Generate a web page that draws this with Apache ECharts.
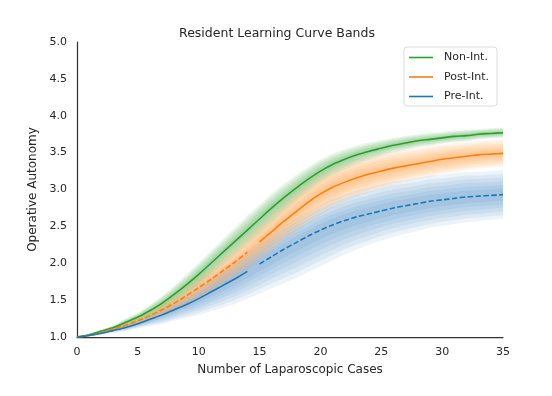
<!DOCTYPE html>
<html>
<head>
<meta charset="utf-8">
<script src="https://cdn.jsdelivr.net/npm/echarts@6/dist/echarts.min.js"></script>
<style>
  html, body { margin: 0; padding: 0; background: #fff; }
  #chart { width: 552px; height: 396px; }
</style>
</head>
<body>
<div id="chart"></div>
<script>
// 病例数（0..35）
var cases = [];
for (var c = 0; c <= 35; c++) cases.push(c);

// 平均曲线
var nonInt = [1.00, 1.03, 1.08, 1.13, 1.20, 1.27, 1.36, 1.46, 1.58, 1.71, 1.85, 2.00, 2.15, 2.30, 2.45, 2.60,
              2.75, 2.89, 3.02, 3.14, 3.25, 3.34, 3.41, 3.47, 3.52, 3.56, 3.60, 3.63, 3.66, 3.68, 3.70, 3.72,
              3.73, 3.75, 3.76, 3.77];
var postInt = [1.00, 1.02, 1.06, 1.11, 1.16, 1.22, 1.29, 1.37, 1.46, 1.56, 1.67, 1.78, 1.90, 2.02, 2.15, 2.29,
               2.43, 2.57, 2.70, 2.83, 2.94, 3.03, 3.10, 3.16, 3.21, 3.25, 3.29, 3.32, 3.35, 3.38, 3.41, 3.43,
               3.45, 3.47, 3.48, 3.49];
var preInt = [1.00, 1.02, 1.05, 1.09, 1.13, 1.18, 1.24, 1.30, 1.37, 1.44, 1.52, 1.61, 1.70, 1.79, 1.89, 1.99,
              2.09, 2.19, 2.28, 2.37, 2.45, 2.52, 2.58, 2.63, 2.67, 2.71, 2.75, 2.78, 2.81, 2.84, 2.86, 2.88,
              2.90, 2.91, 2.92, 2.93];

// 外层带宽（上/下半宽）
var nonIntSpread = [0, 0.01, 0.02, 0.03, 0.05, 0.06, 0.08, 0.10, 0.12, 0.14, 0.16, 0.17, 0.18, 0.19, 0.20, 0.20,
                    0.20, 0.19, 0.18, 0.17, 0.16, 0.15, 0.14, 0.13, 0.12, 0.11, 0.10, 0.10, 0.09, 0.09, 0.08, 0.08,
                    0.08, 0.07, 0.07, 0.07];
var postIntSpread = [0, 0.01, 0.02, 0.03, 0.04, 0.05, 0.07, 0.09, 0.11, 0.13, 0.16, 0.18, 0.20, 0.22, 0.24, 0.26,
                     0.27, 0.28, 0.29, 0.29, 0.29, 0.28, 0.27, 0.26, 0.25, 0.24, 0.23, 0.22, 0.21, 0.21, 0.20, 0.20,
                     0.19, 0.19, 0.18, 0.18];
var preIntUpper = [0, 0.01, 0.02, 0.03, 0.04, 0.05, 0.07, 0.09, 0.11, 0.14, 0.17, 0.20, 0.23, 0.26, 0.28, 0.30,
                   0.31, 0.32, 0.33, 0.33, 0.34, 0.35, 0.35, 0.36, 0.36, 0.36, 0.36, 0.35, 0.35, 0.35, 0.34, 0.34,
                   0.34, 0.33, 0.33, 0.33];
var preIntLower = [0, 0.01, 0.02, 0.03, 0.05, 0.06, 0.09, 0.12, 0.15, 0.18, 0.22, 0.26, 0.30, 0.34, 0.37, 0.40,
                   0.43, 0.46, 0.48, 0.49, 0.49, 0.48, 0.46, 0.44, 0.42, 0.40, 0.39, 0.38, 0.37, 0.36, 0.35, 0.35,
                   0.34, 0.34, 0.33, 0.33];

var xTicks = [0, 5, 10, 15, 20, 25, 30, 35];
var yTicks = [1.0, 1.5, 2.0, 2.5, 3.0, 3.5, 4.0, 4.5, 5.0];
var splitCase = 14; // 14 之前/15 之后 线型切换

var GREEN = '#2ca02c', ORANGE = '#ff7f0e', BLUE = '#1f77b4';
var FONT = 'DejaVu Sans';
var layerFracs = [1.0, 0.85, 0.7, 0.55, 0.4, 0.25];

function pairs(arr, from, to) {
    var out = [];
    for (var i = from; i <= to; i++) out.push([cases[i], arr[i]]);
    return out;
}

// 不确定性带：自定义多边形，坐标由 api.coord 换算
function bandSeries(mean, upper, lower, color) {
    var list = [];
    layerFracs.forEach(function(f) {
        list.push({
            type: 'custom',
            silent: true,
            data: [[0, mean[0]]],
            z: 1,
            renderItem: function(params, api) {
                var pts = [];
                for (var i = 0; i < cases.length; i++) pts.push(api.coord([cases[i], mean[i] + upper[i] * f]));
                for (var j = cases.length - 1; j >= 0; j--) pts.push(api.coord([cases[j], mean[j] - lower[j] * f]));
                return { type: 'polygon', shape: { points: pts }, style: { fill: color, opacity: 0.085 } };
            }
        });
    });
    return list;
}

function lineSeries(name, data, color, dashed) {
    return {
        name: name, type: 'line', data: data, smooth: 0.3, symbol: 'none', z: 5,
        lineStyle: { color: color, width: 1.6, type: dashed ? [5.5, 2.4] : 'solid' },
        itemStyle: { color: color }
    };
}

var chart = echarts.init(document.getElementById('chart'));
var series = [].concat(
    bandSeries(preInt, preIntUpper, preIntLower, BLUE),
    bandSeries(postInt, postIntSpread, postIntSpread, ORANGE),
    bandSeries(nonInt, nonIntSpread, nonIntSpread, GREEN),
    [
        lineSeries('Non-Int.', pairs(nonInt, 0, 35), GREEN, false),
        lineSeries('Post-Int. early', pairs(postInt, 0, splitCase), ORANGE, true),
        lineSeries('Post-Int.', pairs(postInt, splitCase + 1, 35), ORANGE, false),
        lineSeries('Pre-Int.', pairs(preInt, 0, splitCase), BLUE, false),
        lineSeries('Pre-Int. late', pairs(preInt, splitCase + 1, 35), BLUE, true)
    ]
);

chart.setOption({
    animation: false,
    title: {
        text: 'Resident Learning Curve Bands',
        left: 272, top: 22, textAlign: 'center',
        textStyle: { fontFamily: FONT, fontSize: 12.5, fontWeight: 'normal', color: '#262626' }
    },
    legend: {
        data: ['Non-Int.', 'Post-Int.', 'Pre-Int.'],
        icon: 'rect',
        orient: 'vertical', right: 55, top: 47,
        itemWidth: 24, itemHeight: 1.6, itemGap: 6.5,
        padding: [4, 8, 3, 5],
        borderColor: '#dcdcdc', borderWidth: 1, borderRadius: 3,
        textStyle: { fontFamily: FONT, fontSize: 11, color: '#262626', lineHeight: 13, padding: [0, 0, 0, 6] }
    },
    grid: { left: 77, right: 49, top: 42, bottom: 59 },
    xAxis: {
        type: 'value', min: 0, max: 35, interval: 5,
        name: 'Number of Laparoscopic Cases', nameLocation: 'middle', nameGap: 27,
        nameTextStyle: { fontFamily: FONT, fontSize: 12, color: '#262626' },
        axisLine: { lineStyle: { color: '#333', width: 1.25 } },
        axisTick: { show: false },
        splitLine: { show: false },
        axisLabel: {
            fontFamily: FONT, fontSize: 11, color: '#262626', margin: 10,
            formatter: function(v) { return xTicks.indexOf(v) >= 0 ? String(v) : ''; }
        }
    },
    yAxis: {
        type: 'value', min: 1.0, max: 5.0, interval: 0.5,
        name: 'Operative Autonomy', nameLocation: 'middle', nameGap: 31,
        nameTextStyle: { fontFamily: FONT, fontSize: 12, color: '#262626' },
        axisLine: { show: true, lineStyle: { color: '#333', width: 1.25 } },
        axisTick: { show: false },
        splitLine: { show: false },
        axisLabel: {
            fontFamily: FONT, fontSize: 11, color: '#262626', margin: 10,
            formatter: function(v) {
                for (var k = 0; k < yTicks.length; k++) if (Math.abs(yTicks[k] - v) < 1e-6) return yTicks[k].toFixed(1);
                return '';
            }
        }
    },
    series: series
});
</script>
</body>
</html>
